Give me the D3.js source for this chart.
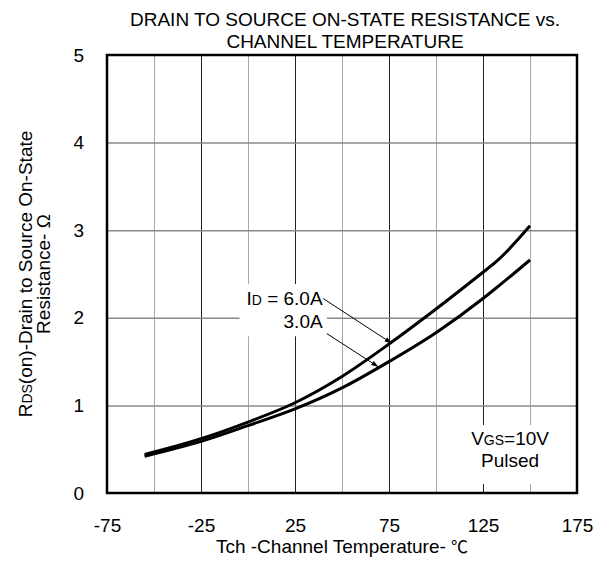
<!DOCTYPE html>
<html>
<head>
<meta charset="utf-8">
<script src="https://cdn.jsdelivr.net/npm/d3@7"></script>
<style>
  body { margin: 0; background: #fff; }
  text { font-family: "Liberation Sans", Arial, sans-serif; fill: #000; }
</style>
</head>
<body>
<div id="canvas"></div>
<script>
// channel temperature (°C)
var Temp = [-55, -25, 0, 25, 50, 75, 100, 125, 132, 150]
// RDS(on) in ohm
var R_6A = [0.44, 0.62, 0.81, 1.03, 1.33, 1.70, 2.10, 2.52, 2.64, 3.05]
var R_3A = [0.42, 0.59, 0.77, 0.96, 1.20, 1.50, 1.83, 2.22, 2.34, 2.66]

var xTicks = [-75, -25, 25, 75, 125, 175]
var xGridMajor = [-25, 25, 75, 125]
var xGridMinor = [-50, 0, 50, 100, 150]
var yTicks = [0, 1, 2, 3, 4, 5]
var yGrid = [1, 2, 3, 4]

// plot box
var x_left = 107, x_right = 577, y_top = 55, y_bottom = 493
var W = 596, H = 565
var fs = 19

var Svg = d3.select('#canvas').append('svg')
    .attr('width', W).attr('height', H)

var xScale = d3.scaleLinear().domain([-75, 175]).range([x_left, x_right])
var yScale = d3.scaleLinear().domain([0, 5]).range([y_bottom, y_top])

// grid
Svg.append('g')
    .attr('transform', 'translate(0,' + y_bottom + ')')
    .call(d3.axisBottom(xScale).tickValues(xGridMinor).tickSize(-(y_bottom - y_top)).tickFormat(''))
    .call(g => g.select('.domain').remove())
    .selectAll('line').attr('stroke', '#a8a8a8').attr('stroke-width', 1)

Svg.append('g')
    .attr('transform', 'translate(0,' + y_bottom + ')')
    .call(d3.axisBottom(xScale).tickValues(xGridMajor).tickSize(-(y_bottom - y_top)).tickFormat(''))
    .call(g => g.select('.domain').remove())
    .selectAll('line').attr('stroke', '#222').attr('stroke-width', 1)

Svg.append('g')
    .attr('transform', 'translate(' + x_left + ',0)')
    .call(d3.axisLeft(yScale).tickValues(yGrid).tickSize(-(x_right - x_left)).tickFormat(''))
    .call(g => g.select('.domain').remove())
    .selectAll('line').attr('stroke', '#888').attr('stroke-width', 1.5)

// curves
var line = d3.line()
    .x((d, i) => xScale(Temp[i]))
    .y(d => yScale(d))
    .curve(d3.curveMonotoneX)

;[R_6A, R_3A].forEach(function (s) {
  Svg.append('path')
    .attr('d', line(s))
    .attr('fill', 'none')
    .attr('stroke', '#000')
    .attr('stroke-width', 3)
})

// ID label with white box and arrows
var lab = Svg.append('g')
var labBox = lab.append('rect').attr('fill', '#fff')
var l1 = lab.append('text').attr('text-anchor', 'end')
    .attr('x', xScale(39.7)).attr('y', yScale(2.146)).style('font-size', fs + 'px')
l1.append('tspan').text('I')
l1.append('tspan').style('font-size', '14px').text('D')
l1.append('tspan').text(' = 6.0A')
lab.append('text').attr('text-anchor', 'end')
    .attr('x', xScale(39.7)).attr('y', yScale(1.88)).style('font-size', fs + 'px')
    .text('3.0A')
var bb = lab.node().getBBox()
labBox.attr('x', bb.x - 7).attr('y', bb.y - 4).attr('width', bb.width + 11).attr('height', bb.height + 8)

Svg.append('defs').append('marker')
    .attr('id', 'ah').attr('viewBox', '0 0 10 10').attr('refX', 10).attr('refY', 5)
    .attr('markerWidth', 7).attr('markerHeight', 7).attr('orient', 'auto')
    .append('path').attr('d', 'M0,1.5L10,5L0,8.5Z').attr('fill', '#000')

var arrows = [[40.0, 2.22, 76.4, 1.71], [41.9, 1.82, 69.3, 1.44]]
arrows.forEach(function (a) {
  Svg.append('line')
    .attr('x1', xScale(a[0])).attr('y1', yScale(a[1]))
    .attr('x2', xScale(a[2])).attr('y2', yScale(a[3]))
    .attr('stroke', '#000').attr('stroke-width', 1)
    .attr('marker-end', 'url(#ah)')
})

// VGS label
var vg = Svg.append('g')
var vgBox = vg.append('rect').attr('fill', '#fff')
var v1 = vg.append('text').attr('text-anchor', 'middle')
    .attr('x', xScale(139.4)).attr('y', yScale(0.548)).style('font-size', fs + 'px')
v1.append('tspan').text('V')
v1.append('tspan').style('font-size', '14px').text('GS')
v1.append('tspan').text('=10V')
vg.append('text').attr('text-anchor', 'middle')
    .attr('x', xScale(139.4)).attr('y', yScale(0.297)).style('font-size', fs + 'px')
    .text('Pulsed')
var vb = vg.node().getBBox()
vgBox.attr('x', vb.x - 5).attr('y', vb.y - 3).attr('width', vb.width + 10).attr('height', y_bottom - 9 - vb.y + 3)

// frame
Svg.append('rect')
    .attr('x', x_left).attr('y', y_top)
    .attr('width', x_right - x_left).attr('height', y_bottom - y_top)
    .attr('fill', 'none').attr('stroke', '#000').attr('stroke-width', 2.5)

// tick labels
var xAxis = Svg.append('g')
    .attr('transform', 'translate(0,' + y_bottom + ')')
    .call(d3.axisBottom(xScale).tickValues(xTicks).tickSize(0).tickPadding(26).tickFormat(d => String(d)))
xAxis.select('.domain').remove()
xAxis.selectAll('text').style('font-size', fs + 'px').style('font-family', '"Liberation Sans", Arial, sans-serif')

var yAxis = Svg.append('g')
    .attr('transform', 'translate(' + x_left + ',0)')
    .call(d3.axisLeft(yScale).tickValues(yTicks).tickSize(0).tickPadding(23).tickFormat(d => String(d)))
yAxis.select('.domain').remove()
yAxis.selectAll('text').style('font-size', fs + 'px').style('font-family', '"Liberation Sans", Arial, sans-serif')

// title
var title = Svg.append('text').attr('text-anchor', 'middle').style('font-size', fs + 'px')
title.append('tspan').attr('x', 345).attr('y', 26).text('DRAIN TO SOURCE ON-STATE RESISTANCE vs.')
title.append('tspan').attr('x', 345).attr('y', 48).text('CHANNEL TEMPERATURE')

// x axis title
var xt = Svg.append('text').attr('text-anchor', 'middle').attr('x', 342).attr('y', 553)
    .style('font-size', fs + 'px')
xt.append('tspan').text('Tch -Channel Temperature- ')
xt.append('tspan').style('font-family', '"Noto Sans CJK JP"').style('font-size', '17px').text('℃')

// y axis title
var yt = Svg.append('text').attr('text-anchor', 'middle')
    .attr('transform', 'translate(32,274) rotate(-90)').style('font-size', fs + 'px')
yt.append('tspan').text('R')
yt.append('tspan').style('font-size', '14px').text('DS')
yt.append('tspan').text('(on)-Drain to Source On-State')
Svg.append('text').attr('text-anchor', 'middle')
    .attr('transform', 'translate(50,274) rotate(-90)').style('font-size', fs + 'px')
    .text('Resistance- Ω')
</script>
</body>
</html>
